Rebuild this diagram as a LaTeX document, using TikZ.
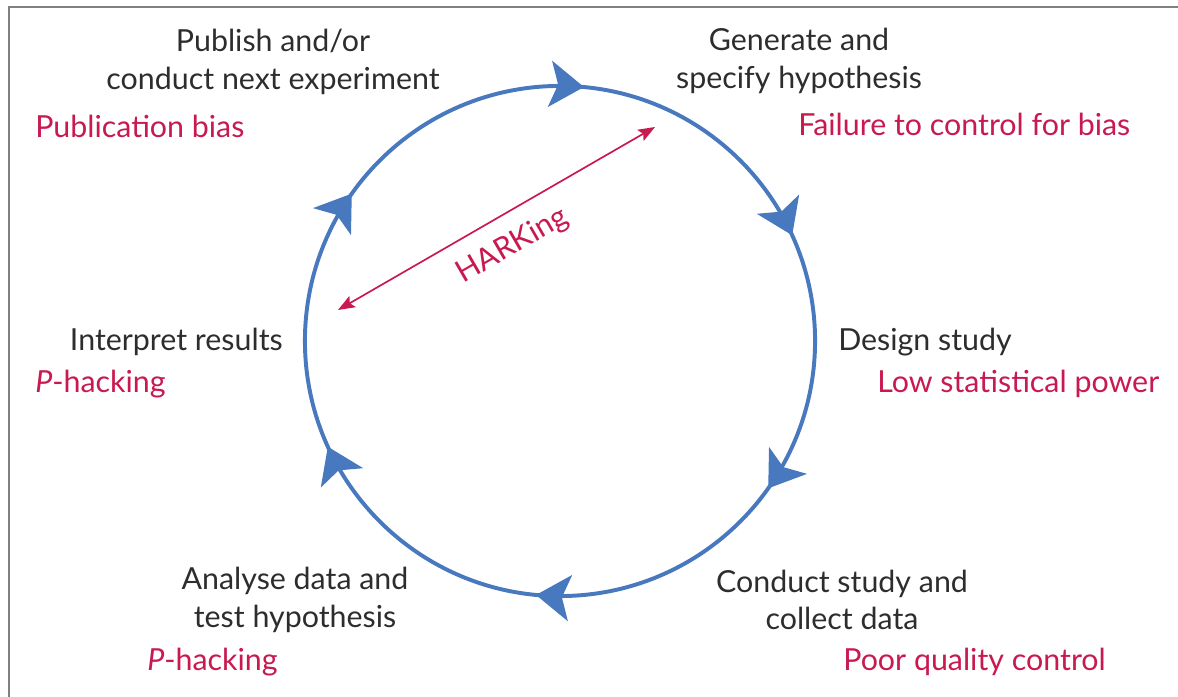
\documentclass[tikz,border=0pt]{standalone}
\usepackage{fontspec}
\setmainfont{Lato}
\usetikzlibrary{arrows.meta,decorations.markings}
\definecolor{cycleblue}{RGB}{72,120,190}
\definecolor{biasred}{RGB}{200,25,80}
\definecolor{stagegray}{RGB}{45,45,45}
\tikzset{
  stage/.style  = { align=center, text=stagegray, inner sep=0pt, font=\fontsize{21.6}{26.5}\selectfont },
  bias/.style   = { text=biasred, inner sep=0pt, font=\fontsize{21.6}{26.5}\selectfont },
  cyclehead/.tip = { Stealth[length=0.85cm,width=1.15cm,inset=0.2cm] },
  harkhead/.tip  = { Stealth[length=0.42cm,width=0.32cm,inset=0.08cm] },
  cycle/.style  = { line width=2.8pt, cycleblue, postaction={decorate},
    decoration={markings,
      mark=at position 0.015 with {\arrow{cyclehead}},
      mark=at position 0.182 with {\arrow{cyclehead}},
      mark=at position 0.348 with {\arrow{cyclehead}},
      mark=at position 0.515 with {\arrow{cyclehead}},
      mark=at position 0.682 with {\arrow{cyclehead}},
      mark=at position 0.848 with {\arrow{cyclehead}}} },
  hark/.style   = { biasred, line width=1.2pt, harkhead-harkhead },
  frame/.style  = { gray, line width=1.4pt }
}

\begin{document}
\begin{tikzpicture}[x=0.025cm,y=0.025cm]
  \useasboundingbox (0,0) rectangle (1178,697);
  % Frame
  \draw[frame] (9,0) -- (9,690) -- (1178,690);
  % Research cycle
  \coordinate (centre) at (560,356);
  \draw[cycle] (centre) ++(90:6.375cm) arc[start angle=90, end angle=-270, radius=6.375cm];
  % Stages
  \node[stage] (publish)   at (273,635) {Publish and/or\\conduct next experiment};
  \node[stage] (generate)  at (799,636) {Generate and\\specify hypothesis};
  \node[stage, anchor=west] (design) at (838,355) {Design study};
  \node[stage] (conduct)   at (842,97)  {Conduct study and\\collect data};
  \node[stage] (analyse)   at (295,97)  {Analyse data and\\test hypothesis};
  \node[stage, anchor=east] (interpret) at (283,355) {Interpret results};
  % Threats
  \node[bias, anchor=west] (pubbias)  at (35,571)  {Publication bias};
  \node[bias, anchor=west] (failbias) at (798,573) {Failure to control for bias};
  \node[bias, anchor=west] (lowpower) at (877,313) {Low statistical power};
  \node[bias, anchor=west] (poorqc)   at (843,35)  {Poor quality control};
  \node[bias, anchor=west] (phackA)   at (147,35)  {\textit{P}-hacking};
  \node[bias, anchor=west] (phackI)   at (35,313)  {\textit{P}-hacking};
  % HARKing
  \coordinate (harkA) at (338,387);
  \coordinate (harkB) at (655,570);
  \draw[hark] (harkA) -- node[bias, sloped, below=0.42cm] (harklabel) {HARKing} (harkB);
\end{tikzpicture}
\end{document}
